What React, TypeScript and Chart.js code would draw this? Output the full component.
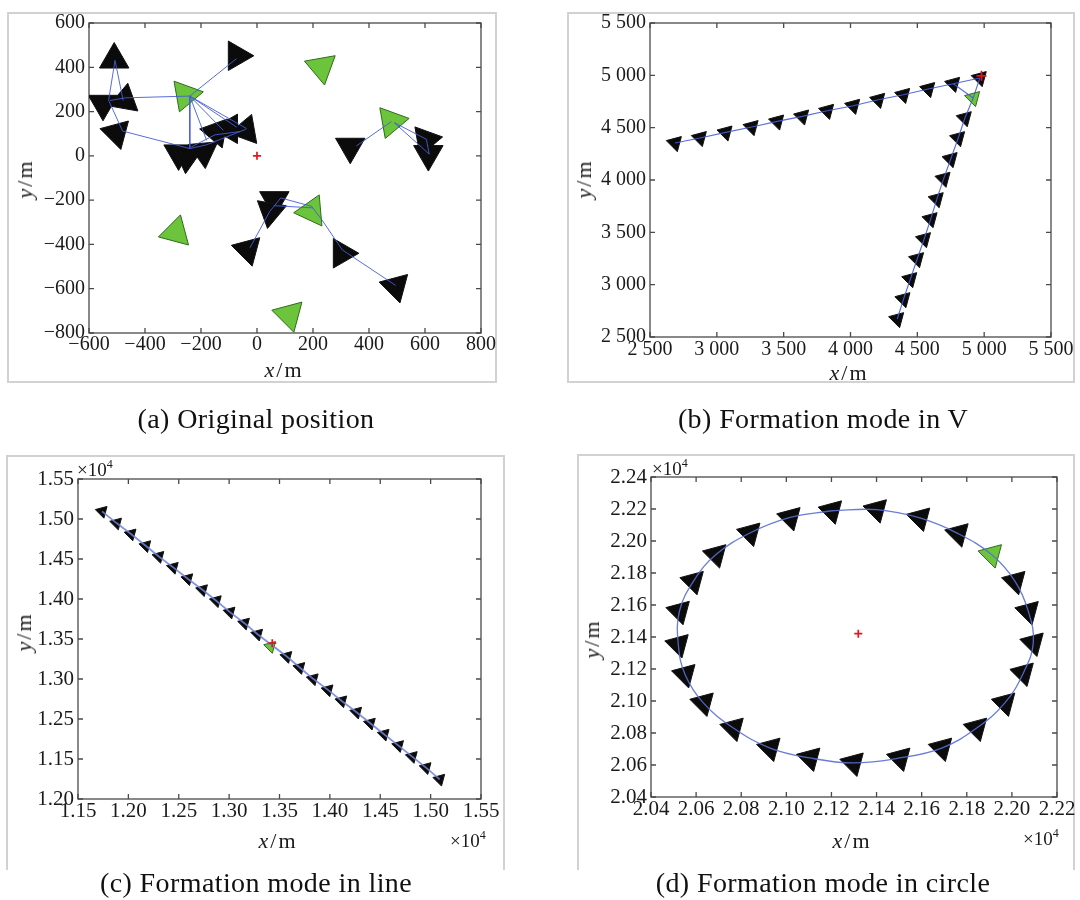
import React, { useEffect, useRef } from 'react';
import { Chart, registerables } from 'chart.js';

Chart.register(...registerables);

const SERIF = "'Liberation Serif', 'Times New Roman', Times, serif";

/* ---------------- (a) Original position ---------------- */
const aBlackX = [-510, -72, -550, -472, -502, -280, -250, -190, -145, -100, -40, 333, 603, 612, 62, 48, -33, 303, 495];
const aBlackY = [435, 452, 235, 252, 103, 11, -4, 19, 108, 122, 115, 41, 72, 8, -200, -252, -424, -440, -590];
const aBlackRot = [0, 90, 300, 10, 165, 180, 185, 175, 40, 30, 20, 180, 200, 180, 300, 190, 165, 330, 165];
const aGreenX = [230, -255, 480, 195, -290, 115];
const aGreenY = [400, 275, 155, -250, -345, -718];
const aGreenRot = [170, 200, 200, 25, 15, 165];
const aTargetX = [0];
const aTargetY = [0];
const aLinkX = [
  [-507, -530, -480], [-507, -478], [-525, -470, -240], [-480, -240], [-240, -240],
  [-240, -180], [-240, -120], [-240, -73], [-240, -37], [-240, -73],
  [-240, -180, -110, -40], [-235, -150, -60],
  [480, 355], [490, 605], [490, 615], [605, 615],
  [85, 195, 235, 305, 495], [60, 200], [85, 45, -25],
];
const aLinkY = [
  [431, 251, 112], [431, 250], [250, 262, 270], [112, 33], [270, 33],
  [270, 70], [270, 115], [270, 130], [270, 123], [270, 439],
  [33, 50, 85, 120], [40, 95, 110],
  [155, 45], [150, 75], [150, 8], [75, 8],
  [-190, -228, -295, -425, -585], [-225, -235], [-190, -252, -415],
];
const aXTicks = [-600, -400, -200, 0, 200, 400, 600, 800];
const aXTickLabels = ['−600', '−400', '−200', '0', '200', '400', '600', '800'];
const aYTicks = [-800, -600, -400, -200, 0, 200, 400, 600];
const aYTickLabels = ['−800', '−600', '−400', '−200', '0', '200', '400', '600'];

/* ---------------- (b) Formation mode in V ---------------- */
const bLeftX = [2687, 2874, 3066, 3261, 3452, 3639, 3826, 4021, 4208, 4395, 4582, 4769];
const bLeftY = [4354, 4402, 4455, 4507, 4560, 4608, 4662, 4710, 4767, 4814, 4870, 4920];
const bApexX = [4968];
const bApexY = [4975];
const bRightX = [4856, 4806, 4750, 4697, 4646, 4600, 4551, 4499, 4448, 4397, 4350];
const bRightY = [4592, 4401, 4201, 4013, 3818, 3627, 3436, 3245, 3054, 2863, 2672];
const bGreenX = [4918];
const bGreenY = [4784];
const bTargetX = [4980];
const bTargetY = [4995];
const bTicks = [2500, 3000, 3500, 4000, 4500, 5000, 5500];
const bTickLabels = ['2 500', '3 000', '3 500', '4 000', '4 500', '5 000', '5 500'];

/* ---------------- (c) Formation mode in line (×10^4 m) ---------------- */
const cBlackX = [1.1739, 1.1882, 1.2026, 1.2172, 1.2302, 1.2445, 1.2589, 1.2735, 1.2872, 1.3008, 1.3152, 1.3282,
  1.3572, 1.3701, 1.3834, 1.3981, 1.4118, 1.4265, 1.4401, 1.4538, 1.4681, 1.4817, 1.4954, 1.5090];
const cBlackY = [1.5095, 1.4949, 1.4812, 1.4666, 1.4532, 1.4395, 1.4253, 1.4115, 1.3978, 1.3836, 1.3698, 1.3560,
  1.3281, 1.3143, 1.3002, 1.2864, 1.2726, 1.2585, 1.2447, 1.2309, 1.2167, 1.2030, 1.1892, 1.1746];
const cGreenX = [1.3411];
const cGreenY = [1.3406];
const cTargetX = [1.3428];
const cTargetY = [1.3448];
const cXTicks = [1.15, 1.2, 1.25, 1.3, 1.35, 1.4, 1.45, 1.5, 1.55];
const cXTickLabels = ['1.15', '1.20', '1.25', '1.30', '1.35', '1.40', '1.45', '1.50', '1.55'];
const cYTicks = [1.15, 1.2, 1.25, 1.3, 1.35, 1.4, 1.45, 1.5, 1.55];
const cYTickLabels = ['1.20', '1.15', '1.25', '1.30', '1.35', '1.40', '1.45', '1.50', '1.55'];

/* ---------------- (d) Formation mode in circle (×10^4 m) ---------------- */
const dBlackX = [2.1201, 2.1400, 2.1592, 2.1762, 2.2014, 2.2073, 2.2095, 2.2051, 2.1969, 2.1844, 2.1689, 2.1504,
  2.1297, 2.1105, 2.0928, 2.0765, 2.0632, 2.0551, 2.0521, 2.0526, 2.0588, 2.0688, 2.0839, 2.1017];
const dBlackY = [2.2189, 2.2196, 2.2144, 2.2046, 2.1748, 2.1560, 2.1363, 2.1175, 2.0988, 2.0831, 2.0706, 2.0644,
  2.0613, 2.0644, 2.0706, 2.0831, 2.0988, 2.1166, 2.1353, 2.1561, 2.1748, 2.1915, 2.2050, 2.2147];
const dGreenX = [2.1910];
const dGreenY = [2.1915];
const dGreenSlot = 4;
const dTargetX = [2.1319];
const dTargetY = [2.1421];
const dXTicks = [2.04, 2.06, 2.08, 2.1, 2.12, 2.14, 2.16, 2.18, 2.2, 2.22];
const dXTickLabels = ['2.04', '2.06', '2.08', '2.10', '2.12', '2.14', '2.16', '2.18', '2.20', '2.22'];
const dYTicks = [2.04, 2.06, 2.08, 2.1, 2.12, 2.14, 2.16, 2.18, 2.2, 2.22, 2.24];
const dYTickLabels = ['2.04', '2.06', '2.08', '2.10', '2.12', '2.14', '2.16', '2.18', '2.20', '2.22', '2.24'];

/* ---------------- styling ---------------- */
const BLACK_FILL = '#0b0b0b';
const BLACK_EDGE = '#111111';
const GREEN_FILL = '#6cc43c';
const GREEN_EDGE = '#2f6b1a';
const LINK_COLOR = 'rgba(70, 92, 215, 0.9)';
const TARGET_COLOR = '#e3161e';
const FRAME_COLOR = '#4a4a4a';
const TICK_TEXT = '#1a1a1a';
const M = 30;

type Box = { l: number; t: number; r: number; b: number };

const pts = (xs: number[], ys: number[]) => xs.map((x, i) => ({ x, y: ys[i] }));

const triangles = (xs: number[], ys: number[], rot: number | number[], r: number, fill: string, edge: string) => ({
  data: pts(xs, ys),
  showLine: false,
  pointStyle: 'triangle',
  pointRadius: r,
  pointHoverRadius: r,
  pointRotation: rot,
  backgroundColor: fill,
  borderColor: edge,
  pointBorderWidth: 1,
  order: 3,
});

const polyline = (xs: number[], ys: number[], width: number, color = LINK_COLOR, tension = 0) => ({
  data: pts(xs, ys),
  showLine: true,
  pointRadius: 0,
  pointHoverRadius: 0,
  borderColor: color,
  borderWidth: width,
  tension,
  fill: false,
  order: 1,
});

const target = (xs: number[], ys: number[], r: number) => ({
  data: pts(xs, ys),
  showLine: false,
  pointStyle: 'cross',
  pointRadius: r,
  pointHoverRadius: r,
  borderColor: TARGET_COLOR,
  pointBorderWidth: 1.7,
  order: 0,
});

const framePlugin = {
  id: 'frameBox',
  beforeDatasetsDraw(chart: any) {
    const { ctx, chartArea } = chart;
    const { left, top, right, bottom } = chartArea;
    const xs = chart.scales.x;
    const ys = chart.scales.y;
    const TL = 5;
    ctx.save();
    ctx.strokeStyle = FRAME_COLOR;
    ctx.lineWidth = 1.3;
    ctx.strokeRect(left, top, right - left, bottom - top);
    ctx.beginPath();
    for (const t of xs.ticks) {
      const p = xs.getPixelForValue(t.value);
      ctx.moveTo(p, bottom); ctx.lineTo(p, bottom - TL);
      ctx.moveTo(p, top); ctx.lineTo(p, top + TL);
    }
    for (const t of ys.ticks) {
      const p = ys.getPixelForValue(t.value);
      ctx.moveTo(left, p); ctx.lineTo(left + TL, p);
      ctx.moveTo(right, p); ctx.lineTo(right - TL, p);
    }
    ctx.stroke();
    ctx.restore();
  },
};

interface AxisSpec { min: number; max: number; ticks: number[]; labels: string[] }
interface PanelSpec {
  box: Box; frame: Box; openBottom?: boolean;
  x: AxisSpec; y: AxisSpec; font: number; xPad: number; yPad: number;
  datasets: any[];
}

function buildConfig(s: PanelSpec): any {
  const { box, frame } = s;
  const tickFont = { family: SERIF, size: s.font };
  return {
    type: 'scatter',
    data: { datasets: s.datasets },
    options: {
      animation: false,
      responsive: false,
      devicePixelRatio: 1,
      events: [],
      layout: {
        padding: { left: M, top: frame.t - box.t + M, right: box.r + M - frame.r, bottom: M },
      },
      plugins: { legend: { display: false }, tooltip: { enabled: false }, title: { display: false } },
      scales: {
        x: {
          type: 'linear', position: 'bottom', min: s.x.min, max: s.x.max,
          grid: { display: false, drawTicks: false }, border: { display: false },
          afterBuildTicks: (sc: any) => { sc.ticks = s.x.ticks.map((v) => ({ value: v })); },
          afterFit: (sc: any) => { sc.height = box.b - frame.b; },
          ticks: {
            autoSkip: false, maxRotation: 0, minRotation: 0, padding: s.xPad, color: TICK_TEXT, font: tickFont,
            callback: (_v: any, i: number) => s.x.labels[i],
          },
        },
        y: {
          type: 'linear', position: 'left', min: s.y.min, max: s.y.max,
          grid: { display: false, drawTicks: false }, border: { display: false },
          afterBuildTicks: (sc: any) => { sc.ticks = s.y.ticks.map((v) => ({ value: v })); },
          afterFit: (sc: any) => { sc.width = frame.l - box.l; },
          ticks: {
            autoSkip: false, padding: s.yPad, color: TICK_TEXT, font: tickFont,
            callback: (_v: any, i: number) => s.y.labels[i],
          },
        },
      },
    },
    plugins: [framePlugin],
  };
}

function Panel({ spec }: { spec: PanelSpec }) {
  const ref = useRef<HTMLCanvasElement>(null);
  useEffect(() => {
    const chart = new Chart(ref.current as HTMLCanvasElement, buildConfig(spec));
    return () => chart.destroy();
  }, []);
  const { box } = spec;
  const w = box.r - box.l + 2 * M;
  const h = box.b - box.t + 2 * M;
  return (
    <>
      <div
        style={{
          position: 'absolute', left: box.l, top: box.t, width: box.r - box.l, height: box.b - box.t,
          boxSizing: 'border-box', border: '2px solid #d2d2d2', borderBottom: spec.openBottom ? 'none' : '2px solid #d2d2d2',
        }}
      />
      <canvas
        ref={ref}
        width={w}
        height={h}
        style={{ position: 'absolute', left: box.l - M, top: box.t - M, width: w, height: h }}
      />
    </>
  );
}

/* ---------------- panel specs ---------------- */
const dRingX = [...dBlackX.slice(0, dGreenSlot), ...dGreenX, ...dBlackX.slice(dGreenSlot)];
const dRingY = [...dBlackY.slice(0, dGreenSlot), ...dGreenY, ...dBlackY.slice(dGreenSlot)];

const specA: PanelSpec = {
  box: { l: 7, t: 12, r: 497, b: 383 },
  frame: { l: 89, t: 23, r: 481, b: 333 },
  x: { min: -600, max: 800, ticks: aXTicks, labels: aXTickLabels },
  y: { min: -800, max: 600, ticks: aYTicks, labels: aYTickLabels },
  font: 20, xPad: 0, yPad: 4,
  datasets: [
    target(aTargetX, aTargetY, 4),
    ...aLinkX.map((xs, i) => polyline(xs, aLinkY[i], 1)),
    triangles(aGreenX, aGreenY, aGreenRot, 18, GREEN_FILL, GREEN_EDGE),
    triangles(aBlackX, aBlackY, aBlackRot, 17, BLACK_FILL, BLACK_EDGE),
  ],
};

const specB: PanelSpec = {
  box: { l: 567, t: 12, r: 1075, b: 383 },
  frame: { l: 650, t: 23, r: 1051, b: 337 },
  x: { min: 2500, max: 5500, ticks: bTicks, labels: bTickLabels },
  y: { min: 2500, max: 5500, ticks: bTicks, labels: bTickLabels },
  font: 20, xPad: 1, yPad: 4,
  datasets: [
    target(bTargetX, bTargetY, 5),
    polyline([...bLeftX, ...bApexX], [...bLeftY, ...bApexY], 1.1),
    polyline([...bApexX, ...bGreenX, ...bRightX], [...bApexY, ...bGreenY, ...bRightY], 1.1),
    polyline([bLeftX[bLeftX.length - 1], ...bGreenX], [bLeftY[bLeftY.length - 1], ...bGreenY], 1.1),
    triangles(bGreenX, bGreenY, 165, 9, GREEN_FILL, GREEN_EDGE),
    triangles([...bLeftX, ...bApexX, ...bRightX], [...bLeftY, ...bApexY, ...bRightY], 165, 9, BLACK_FILL, BLACK_EDGE),
  ],
};

const specC: PanelSpec = {
  box: { l: 6, t: 455, r: 505, b: 870 },
  frame: { l: 78, t: 479, r: 481, b: 799 },
  openBottom: true,
  x: { min: 1.15, max: 1.55, ticks: cXTicks, labels: cXTickLabels },
  y: { min: 1.15, max: 1.55, ticks: cYTicks, labels: cYTickLabels },
  font: 21, xPad: 0, yPad: 4,
  datasets: [
    target(cTargetX, cTargetY, 4),
    polyline(cBlackX, cBlackY, 1.8, 'rgba(110, 130, 215, 0.85)'),
    triangles(cGreenX, cGreenY, 165, 7, GREEN_FILL, GREEN_EDGE),
    triangles(cBlackX, cBlackY, 165, 7, BLACK_FILL, BLACK_EDGE),
  ],
};

const specD: PanelSpec = {
  box: { l: 577, t: 454, r: 1075, b: 870 },
  frame: { l: 651, t: 477, r: 1057, b: 797 },
  openBottom: true,
  x: { min: 2.04, max: 2.22, ticks: dXTicks, labels: dXTickLabels },
  y: { min: 2.04, max: 2.24, ticks: dYTicks, labels: dYTickLabels },
  font: 21, xPad: 0, yPad: 4,
  datasets: [
    target(dTargetX, dTargetY, 4),
    polyline([...dRingX, dRingX[0]], [...dRingY, dRingY[0]], 1.3, 'rgba(90, 110, 210, 0.9)', 0.4),
    triangles(dGreenX, dGreenY, 165, 14, GREEN_FILL, GREEN_EDGE),
    triangles(dBlackX, dBlackY, 165, 14, BLACK_FILL, BLACK_EDGE),
  ],
};

/* ---------------- text overlays ---------------- */
function XTitle({ cx, cy }: { cx: number; cy: number }) {
  return (
    <div style={{
      position: 'absolute', left: cx, top: cy, transform: 'translate(-50%, -50%)', fontFamily: SERIF,
      fontSize: 22, lineHeight: 1, whiteSpace: 'nowrap', color: '#1a1a1a',
    }}>
      <i>x</i><span style={{ margin: '0 2px' }}>/</span>m
    </div>
  );
}

function YTitle({ cx, cy }: { cx: number; cy: number }) {
  return (
    <div style={{
      position: 'absolute', left: cx, top: cy, transform: 'translate(-50%, -50%) rotate(-90deg)', fontFamily: SERIF,
      fontSize: 22, lineHeight: 1, whiteSpace: 'nowrap', color: '#1a1a1a',
    }}>
      <i>y</i><span style={{ margin: '0 2px' }}>/</span>m
    </div>
  );
}

function Exp({ left, top }: { left: number; top: number }) {
  return (
    <div style={{
      position: 'absolute', left, top, fontFamily: SERIF, fontSize: 19, lineHeight: 1, whiteSpace: 'nowrap', color: '#1a1a1a',
    }}>
      ×10<span style={{ fontSize: 12, position: 'relative', top: -8 }}>4</span>
    </div>
  );
}

function Caption({ cx, top, text }: { cx: number; top: number; text: string }) {
  return (
    <div style={{
      position: 'absolute', left: cx, top, transform: 'translateX(-50%)', fontFamily: SERIF, fontSize: 28,
      letterSpacing: '0.4px', lineHeight: 1, whiteSpace: 'nowrap', color: '#111',
    }}>
      {text}
    </div>
  );
}

export default function App() {
  return (
    <div style={{ position: 'absolute', left: 0, top: 0, width: 1080, height: 900, background: '#fff', overflow: 'hidden' }}>
      <Panel spec={specA} />
      <Panel spec={specB} />
      <Panel spec={specC} />
      <Panel spec={specD} />

      <XTitle cx={283} cy={370} />
      <YTitle cx={25} cy={180} />
      <XTitle cx={848} cy={373} />
      <YTitle cx={584} cy={180} />
      <XTitle cx={277} cy={841} />
      <YTitle cx={24} cy={633} />
      <XTitle cx={851} cy={841} />
      <YTitle cx={592} cy={640} />

      <Exp left={77} top={460} />
      <Exp left={450} top={831} />
      <Exp left={652} top={459} />
      <Exp left={1023} top={829} />

      <Caption cx={256} top={405} text="(a) Original position" />
      <Caption cx={823} top={405} text="(b) Formation mode in V" />
      <Caption cx={256} top={869} text="(c) Formation mode in line" />
      <Caption cx={823} top={869} text="(d) Formation mode in circle" />
    </div>
  );
}
